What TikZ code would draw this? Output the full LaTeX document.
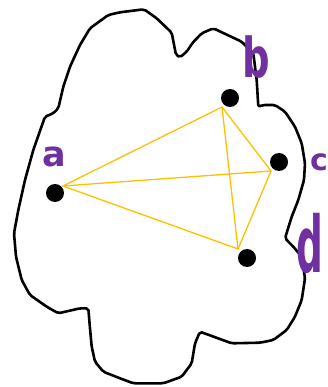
\documentclass[tikz,border=0pt]{standalone}
\usepackage{fontspec}
\newfontfamily\hand{DejaVu Sans}
\definecolor{lblpurple}{HTML}{7030A0}
\definecolor{edgeyellow}{HTML}{FFC000}
\begin{document}
\begin{tikzpicture}[x=1pt,y=-1pt,
  outline/.style={draw=black,line width=2.6pt,line join=round,line cap=round},
  dotnode/.style={circle,fill=black,inner sep=0pt,minimum size=18pt},
  edge/.style={draw=edgeyellow,line width=1.3pt,line cap=round},
  lbl/.style={text=lblpurple,inner sep=0pt}]
\useasboundingbox (0,0) rectangle (328,387);
\clip (0,0) rectangle (328,387);
\draw[outline,rounded corners=2pt]
 (144,9.3) -- (156.7,18.3) -- (171.7,32.7) -- (176,55) -- (180,57.3) -- (186.7,51.7)
 -- (192.7,42.7) -- (201.7,33.3) -- (213.3,28.3) -- (241.7,41.7) -- (253.3,53.3)
 -- (256.7,80) -- (258.3,106.7) -- (263.3,105) -- (275,105) -- (285,111.7)
 -- (295,126.7) -- (301.7,143.3) -- (305,163.3) -- (304,180) -- (298.3,200)
 -- (291.7,216.7) -- (285,238.3) -- (293.3,246.7) -- (301.7,256.7) -- (305,278.3)
 -- (301.7,300) -- (295,316.7) -- (286.7,330) -- (273.3,340) -- (260,342.7)
 -- (231.7,343.3) -- (200,331.7) -- (195,343.3) -- (191.7,363.3) -- (181.7,376.7)
 -- (163.3,383.3) -- (133.3,383.3) -- (120,378.3) -- (103.3,371.7) -- (95,361.7)
 -- (91.7,346.7) -- (90,328.3) -- (88.3,308.3) -- (80,308.3) -- (58.3,313.3)
 -- (46.7,306.7) -- (30,295) -- (21.7,280) -- (16,256.7) -- (14,233.3)
 -- (18.3,210) -- (25,180) -- (33.3,150) -- (45,116.7) -- (53.3,113.3)
 -- (58.3,108.3) -- (63.3,86.7) -- (70,66.7) -- (80,45) -- (90,28.3)
 -- (108.3,15) -- (120,12.3) -- cycle;
% dots
\node[dotnode] (da) at (55,193) {};
\node[dotnode] (db) at (230,98) {};
\node[dotnode] (dc) at (279,162) {};
\node[dotnode] (dd) at (247,258) {};
% edge vertices
\coordinate (va) at (63,186);
\coordinate (vb) at (222,107);
\coordinate (vc) at (271,171);
\coordinate (vd) at (238,249);
\draw[edge] (va) -- (vb);
\draw[edge] (va) -- (vc);
\draw[edge] (va) -- (vd);
\draw[edge] (vb) -- (vc);
\draw[edge] (vb) -- (vd);
\draw[edge] (vc) -- (vd);
% labels
\node[lbl,font=\hand\bfseries\fontsize{35}{35}\selectfont] (la) at (54,157) {a};
\node[lbl,font=\hand\bfseries\fontsize{55}{55}\selectfont,xscale=0.7] (lb) at (256,57) {b};
\node[lbl,font=\hand\bfseries\fontsize{30}{30}\selectfont] (lc) at (319,162) {c};
\node[lbl,font=\hand\bfseries\fontsize{78}{78}\selectfont,xscale=0.48] (ld) at (310,243) {d};
\end{tikzpicture}
\end{document}
